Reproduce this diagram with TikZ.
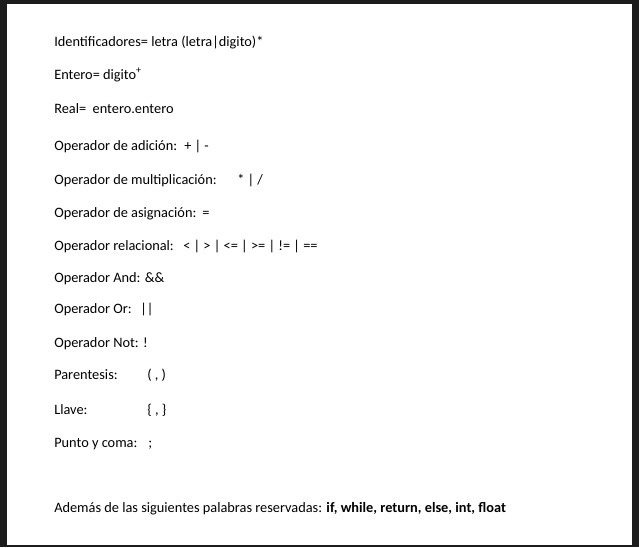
\documentclass[tikz,border=0pt]{standalone}
\usepackage{fontspec}
\setmainfont{Carlito}
\begin{document}
\begin{tikzpicture}[x=0.75pt,y=-0.75pt,
  txt/.style={anchor=base west,inner sep=0pt,font=\fontsize{10.75}{13}\selectfont}]
\useasboundingbox (0,0) rectangle (639,547);
\fill[black!89] (0,0) rectangle (639,547);
\fill[white] (7,4) rectangle (632,545);
\node[txt] (l1) at (54,46) {Identificadores= letra (letra|digito)*};
\node[txt] (l2) at (54,79) {Entero= digito\textsuperscript{+}};
\node[txt] (l3) at (54,113) {Real=\ \ entero.entero};
\node[txt] (l4) at (54,150) {Operador de adición:};
\node[txt] (v4) at (184,150) {+ | -};
\node[txt] (l5) at (54,184) {Operador de multiplicación:};
\node[txt] (v5) at (237,184) {* | /};
\node[txt] (l6) at (54,217) {Operador de asignación:};
\node[txt] (v6) at (202,217) {=};
\node[txt] (l7) at (54,250) {Operador relacional:};
\node[txt] (v7) at (183,250) {< | > | <= | >= | != | ==};
\node[txt] (l8) at (54,282) {Operador And: \&\&};
\node[txt] (l9) at (54,313) {Operador Or:};
\node[txt] (v9) at (140,313) {||};
\node[txt] (l10) at (54,347) {Operador Not: !};
\node[txt] (l11) at (54,379) {Parentesis:};
\node[txt] (v11) at (147,379) {( , )};
\node[txt] (l12) at (54,414) {Llave:};
\node[txt] (v12) at (147,414) {\{ , \}};
\node[txt] (l13) at (54,447) {Punto y coma:};
\node[txt] (v13) at (148,447) {;};
\node[txt] (l14) at (54,512) {Además de las siguientes palabras reservadas: \textbf{if, while, return, else, int, float}};
\end{tikzpicture}
\end{document}
